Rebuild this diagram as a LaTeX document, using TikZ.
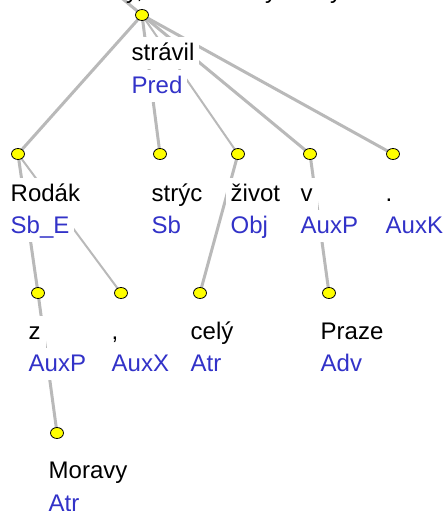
\documentclass[tikz,border=0pt]{standalone}
\usepackage{fontspec}
\setmainfont{Liberation Sans}
\usetikzlibrary{shapes.geometric,backgrounds}
\definecolor{afun}{RGB}{50,50,200}
\definecolor{edgegray}{RGB}{185,185,185}
\definecolor{dotyellow}{RGB}{255,255,0}
\tikzset{
  dot/.style={ellipse, draw=black, line width=0.8pt, fill=dotyellow,
    minimum width=13pt, minimum height=11pt, inner sep=0pt},
  word/.style={anchor=base west, fill=white, inner xsep=5pt, inner ysep=4pt,
    text height=19pt, text depth=5pt, font=\fontsize{24}{28}\selectfont, text=black},
  func/.style={word, text=afun},
  cut/.style={anchor=base west, inner sep=0pt, font=\fontsize{24}{28}\selectfont, text=black},
  edgeA/.style={draw=edgegray, line width=3pt},
  edgeB/.style={draw=edgegray, line width=2pt},
}
\begin{document}
\begin{tikzpicture}[x=1pt, y=-1pt]
\useasboundingbox (0,0) rectangle (446,511);
\clip (0,0) rectangle (446,511);
% cropped sentence line at the very top
\node[cut] (t1) at (126,-1.5) {y,};
\node[cut] (t2) at (265,-1.5) {y};
\node[cut] (t3) at (330,-1.5) {y};
% dots
\coordinate (top) at (118,-5);
\node[dot] (R) at (142,15) {};
\node[dot] (A) at (18,154) {};
\node[dot] (B) at (160,154) {};
\node[dot] (C) at (238,154) {};
\node[dot] (D) at (310,154) {};
\node[dot] (E) at (393,154) {};
\node[dot] (F) at (38,293) {};
\node[dot] (G) at (121,293) {};
\node[dot] (H) at (200,293) {};
\node[dot] (I) at (329,293) {};
\node[dot] (J) at (57,433) {};
% labels
\node[word] (Rw) at (126.5,60) {strávil};
\node[func] (Rf) at (126.5,93) {Pred};
\node[word] (Aw) at (5.5,201) {Rodák};
\node[func] (Af) at (5.5,233) {Sb\_E};
\node[word] (Bw) at (146.5,201) {strýc};
\node[func] (Bf) at (146.5,233) {Sb};
\node[word] (Cw) at (225.5,201) {život};
\node[func] (Cf) at (225.5,233) {Obj};
\node[word] (Dw) at (295.5,201) {v};
\node[func] (Df) at (295.5,233) {AuxP};
\node[word] (Ew) at (380.5,201) {.};
\node[func] (Ef) at (380.5,233) {AuxK};
\node[word] (Fw) at (23.5,339) {z};
\node[func] (Ff) at (23.5,371) {AuxP};
\node[word] (Gw) at (106.5,339) {,};
\node[func] (Gf) at (106.5,371) {AuxX};
\node[word] (Hw) at (185.5,339) {celý};
\node[func] (Hf) at (185.5,371) {Atr};
\node[word] (Iw) at (315.5,339) {Praze};
\node[func] (If) at (315.5,371) {Adv};
\node[word] (Jw) at (43.5,478) {Moravy};
\node[func] (Jf) at (43.5,511) {Atr};
% edges
\begin{scope}[on background layer]
  \draw[edgeA] (R.center) -- (top);
  \draw[edgeA] (R.center) -- (A.center);
  \draw[edgeA] (R.center) -- (B.center);
  \draw[edgeB] (R.center) -- (C.center);
  \draw[edgeA] (R.center) -- (D.center);
  \draw[edgeA] (R.center) -- (E.center);
  \draw[edgeA] (A.center) -- (F.center);
  \draw[edgeB] (A.center) -- (G.center);
  \draw[edgeA] (C.center) -- (H.center);
  \draw[edgeA] (D.center) -- (I.center);
  \draw[edgeA] (F.center) -- (J.center);
\end{scope}
\end{tikzpicture}
\end{document}
